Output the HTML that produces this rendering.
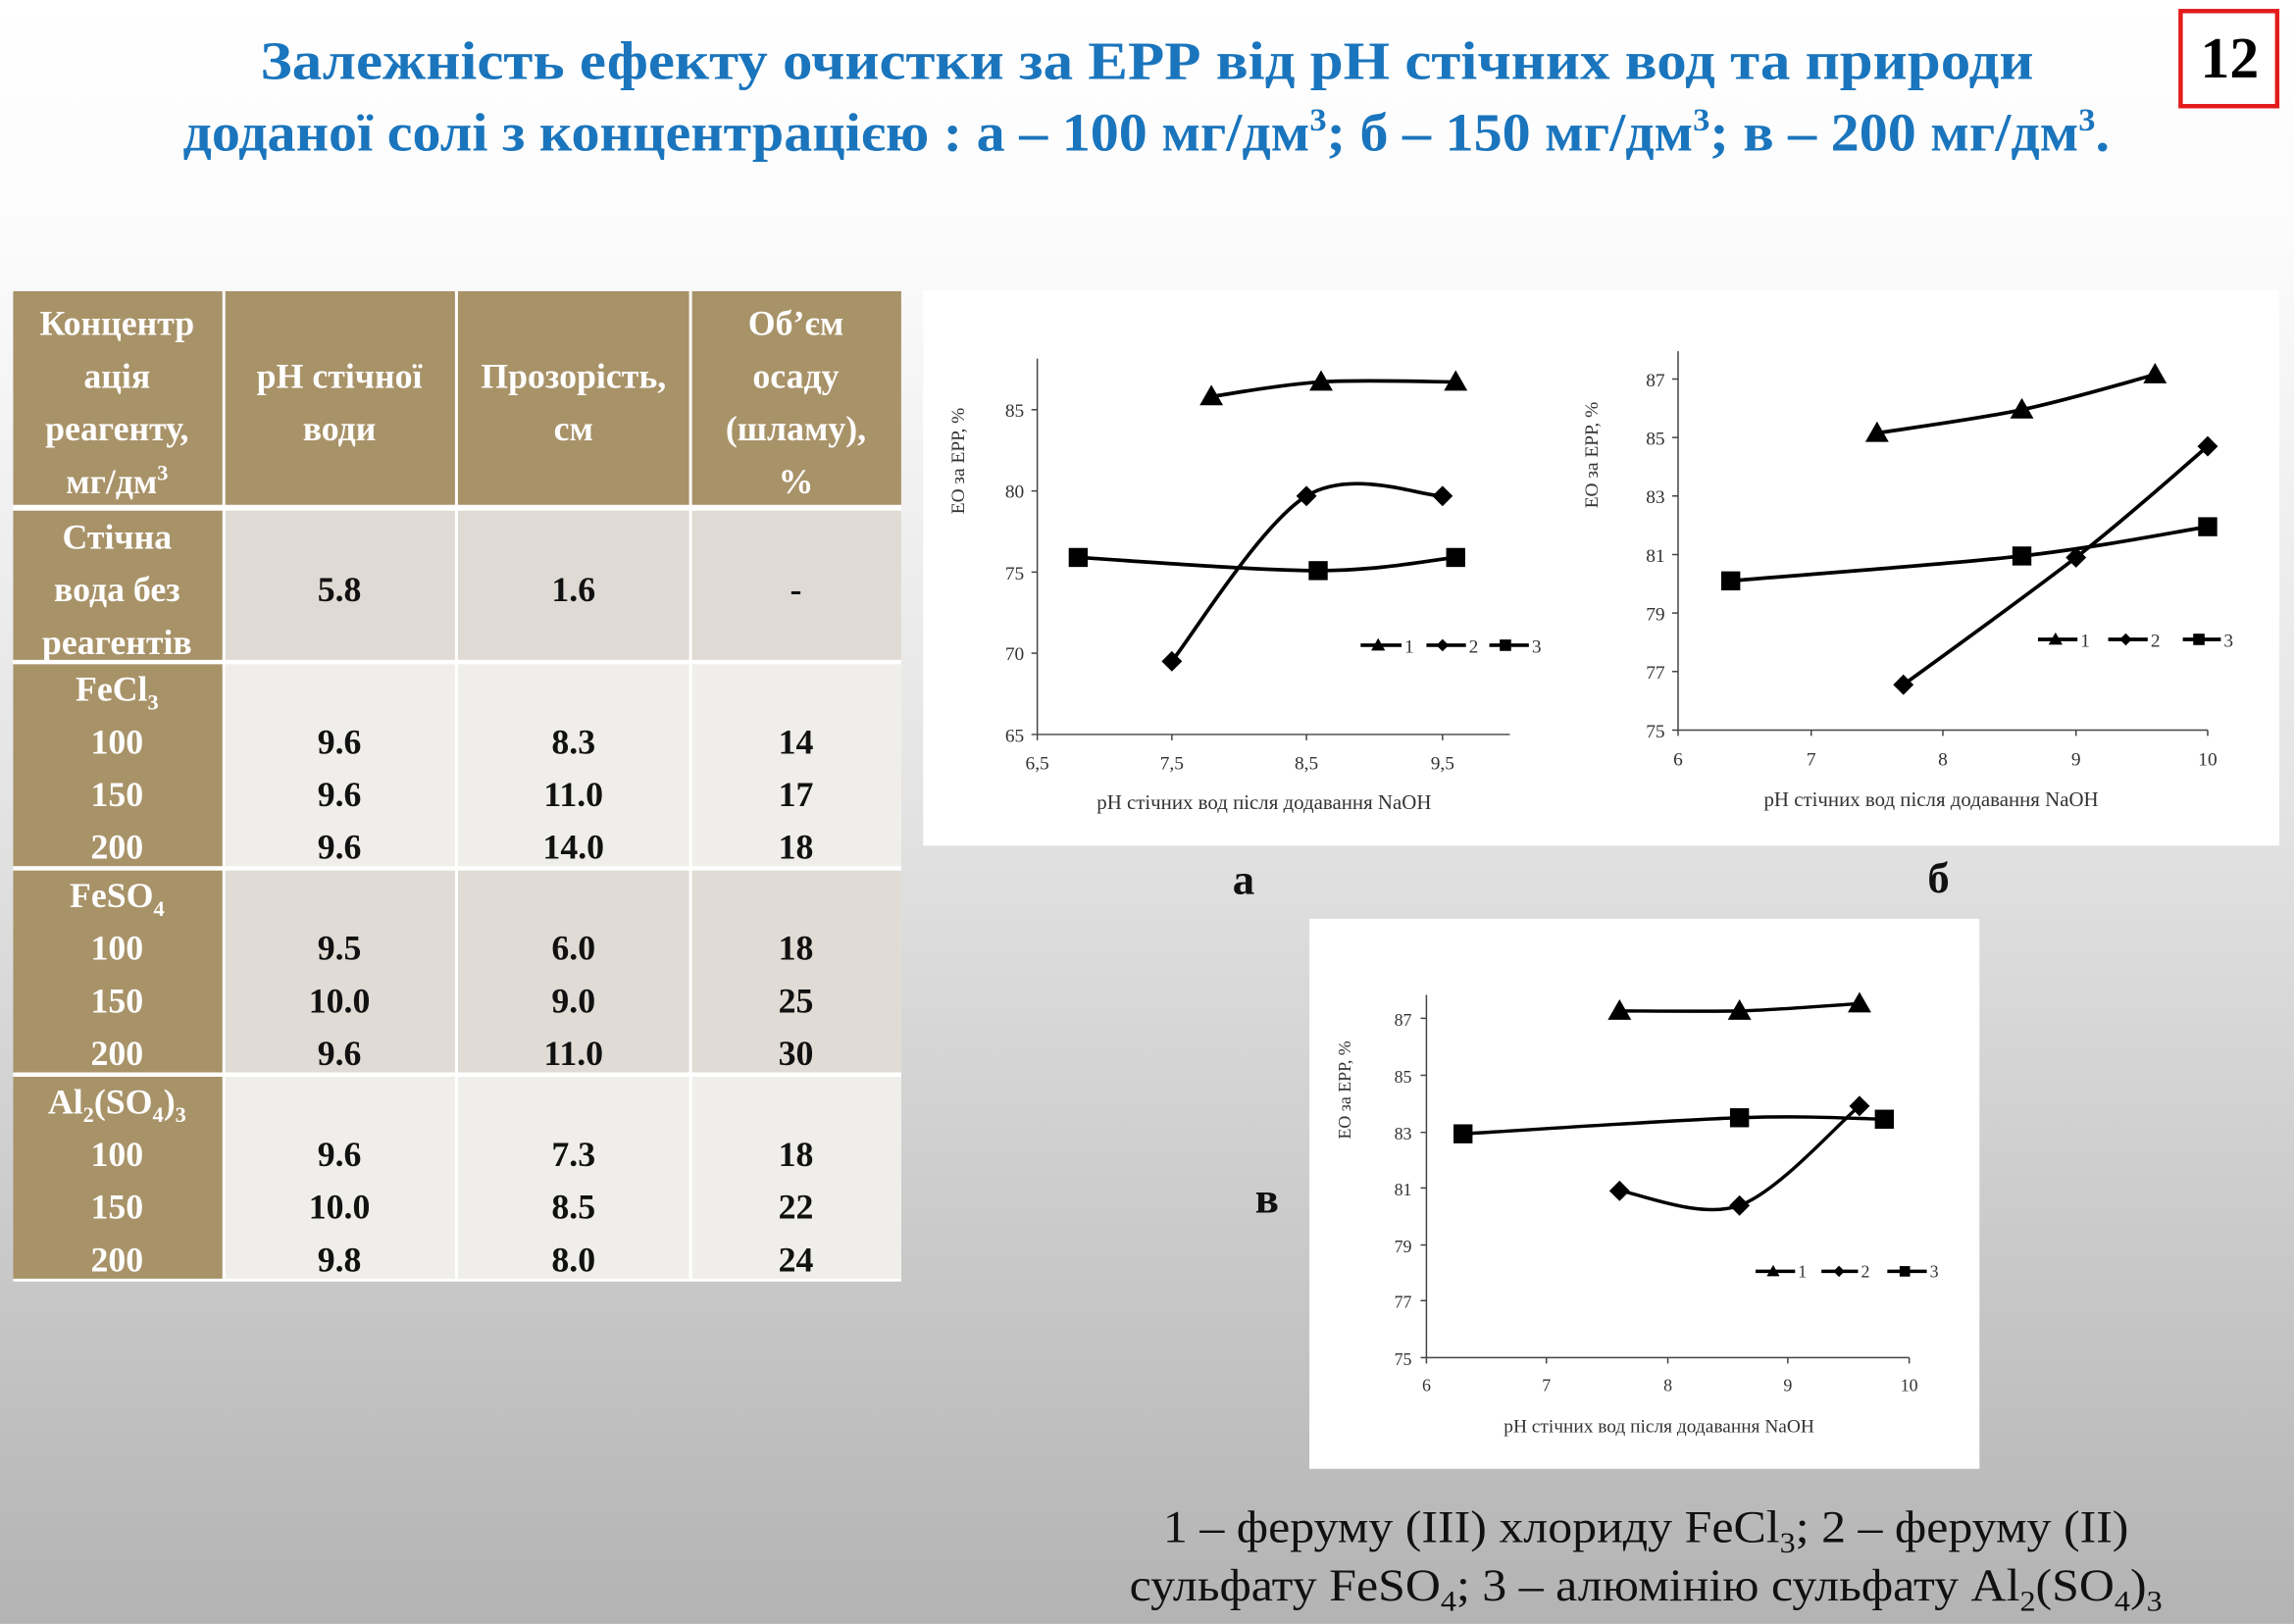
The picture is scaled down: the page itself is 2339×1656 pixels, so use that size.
<!DOCTYPE html>
<html><head><meta charset="utf-8"><style>
html,body{margin:0;padding:0;width:2339px;height:1656px;overflow:hidden}
svg{display:block}
</style></head><body>
<svg width="2339" height="1656" viewBox="0 0 1568 1110" xmlns="http://www.w3.org/2000/svg" font-family="'Liberation Serif', 'Noto Serif CJK SC', serif">
<defs>
<linearGradient id="bg" x1="0" y1="0" x2="0" y2="1">
<stop offset="0" stop-color="#ffffff"/>
<stop offset="0.15" stop-color="#fbfbfb"/>
<stop offset="0.5" stop-color="#e3e3e3"/>
<stop offset="1" stop-color="#b3b3b3"/>
</linearGradient>
<path id="tri" d="M0,-8 L8,6 L-8,6 Z"/>
<path id="dia" d="M0,-7 L7,0 L0,7 L-7,0 Z"/>
<rect id="sq" x="-6.5" y="-6.5" width="13" height="13"/>
</defs>
<rect width="1568" height="1110" fill="url(#bg)"/>

<!-- Title -->
<g fill="#1a75bd" font-weight="bold" font-size="37">
<text x="178" y="54" textLength="1212" lengthAdjust="spacingAndGlyphs">Залежність ефекту очистки за ЕРР від рН стічних вод та природи</text>
<text x="125" y="103" textLength="1317" lengthAdjust="spacingAndGlyphs">доданої солі з концентрацією : а – 100 мг/дм<tspan font-size="22" dy="-14">3</tspan><tspan dy="14">; б – 150 мг/дм</tspan><tspan font-size="22" dy="-14">3</tspan><tspan dy="14">; в – 200 мг/дм</tspan><tspan font-size="22" dy="-14">3</tspan><tspan dy="14">.</tspan></text>
</g>
<rect x="1490.5" y="7.5" width="66" height="65" fill="#fff" stroke="#e31b1b" stroke-width="3"/>
<text x="1524" y="53" font-size="40" font-weight="bold" text-anchor="middle">12</text>

<!-- Table -->
<g>
<rect x="9" y="199" width="607" height="677" fill="#fff"/>
<rect x="9" y="199" width="143" height="146" fill="#a89268"/>
<rect x="154" y="199" width="157" height="146" fill="#a89268"/>
<rect x="313" y="199" width="158" height="146" fill="#a89268"/>
<rect x="473" y="199" width="143" height="146" fill="#a89268"/>

<rect x="9" y="349" width="143" height="102" fill="#a89268"/>
<rect x="154" y="349" width="157" height="102" fill="#dfdbd4"/>
<rect x="313" y="349" width="158" height="102" fill="#dfdbd4"/>
<rect x="473" y="349" width="143" height="102" fill="#dfdbd4"/>

<rect x="9" y="454" width="143" height="138" fill="#a89268"/>
<rect x="154" y="454" width="157" height="138" fill="#f0eeeb"/>
<rect x="313" y="454" width="158" height="138" fill="#f0eeeb"/>
<rect x="473" y="454" width="143" height="138" fill="#f0eeeb"/>

<rect x="9" y="595" width="143" height="138" fill="#a89268"/>
<rect x="154" y="595" width="157" height="138" fill="#e0dcd5"/>
<rect x="313" y="595" width="158" height="138" fill="#e0dcd5"/>
<rect x="473" y="595" width="143" height="138" fill="#e0dcd5"/>

<rect x="9" y="736" width="143" height="138" fill="#a89268"/>
<rect x="154" y="736" width="157" height="138" fill="#f0eeeb"/>
<rect x="313" y="736" width="158" height="138" fill="#f0eeeb"/>
<rect x="473" y="736" width="143" height="138" fill="#f0eeeb"/>

<g font-size="24" font-weight="bold" text-anchor="middle" fill="#fff">
<text x="80" y="229">Концентр</text>
<text x="80" y="265">ація</text>
<text x="80" y="301">реагенту,</text>
<text x="80" y="337">мг/дм<tspan font-size="15" dy="-9">3</tspan></text>
<text x="232" y="265">рН стічної</text>
<text x="232" y="301">води</text>
<text x="392" y="265">Прозорість,</text>
<text x="392" y="301">см</text>
<text x="544" y="229">Об’єм</text>
<text x="544" y="265">осаду</text>
<text x="544" y="301">(шламу),</text>
<text x="544" y="337">%</text>
<text x="80" y="375">Стічна</text>
<text x="80" y="411">вода без</text>
<text x="80" y="447">реагентів</text>
<text x="80" y="479">FeCl<tspan font-size="15" dy="6">3</tspan></text>
<text x="80" y="515">100</text><text x="80" y="551">150</text><text x="80" y="587">200</text>
<text x="80" y="620">FeSO<tspan font-size="15" dy="6">4</tspan></text>
<text x="80" y="656">100</text><text x="80" y="692">150</text><text x="80" y="728">200</text>
<text x="80" y="761">Al<tspan font-size="15" dy="6">2</tspan><tspan dy="-6">(SO</tspan><tspan font-size="15" dy="6">4</tspan><tspan dy="-6">)</tspan><tspan font-size="15" dy="6">3</tspan></text>
<text x="80" y="797">100</text><text x="80" y="833">150</text><text x="80" y="869">200</text>
</g>
<g font-size="24" font-weight="bold" text-anchor="middle" fill="#111">
<text x="232" y="411">5.8</text><text x="392" y="411">1.6</text><text x="544" y="411">-</text>
<text x="232" y="515">9.6</text><text x="392" y="515">8.3</text><text x="544" y="515">14</text>
<text x="232" y="551">9.6</text><text x="392" y="551">11.0</text><text x="544" y="551">17</text>
<text x="232" y="587">9.6</text><text x="392" y="587">14.0</text><text x="544" y="587">18</text>
<text x="232" y="656">9.5</text><text x="392" y="656">6.0</text><text x="544" y="656">18</text>
<text x="232" y="692">10.0</text><text x="392" y="692">9.0</text><text x="544" y="692">25</text>
<text x="232" y="728">9.6</text><text x="392" y="728">11.0</text><text x="544" y="728">30</text>
<text x="232" y="797">9.6</text><text x="392" y="797">7.3</text><text x="544" y="797">18</text>
<text x="232" y="833">10.0</text><text x="392" y="833">8.5</text><text x="544" y="833">22</text>
<text x="232" y="869">9.8</text><text x="392" y="869">8.0</text><text x="544" y="869">24</text>
</g>
</g>

<!-- Panel a/б -->
<rect x="631" y="198" width="927" height="380" fill="#fff"/>
<g stroke="#444" stroke-width="1" fill="none">
<path d="M709,245 V502 H1032"/>
<path d="M705,502H709M705,446.5H709M705,391H709M705,335.5H709M705,280H709"/>
<path d="M709,502V506M801,502V506M893,502V506M986,502V506"/>
<path d="M1147,240 V499 H1509"/>
<path d="M1143,499H1147M1143,459H1147M1143,419H1147M1143,379H1147M1143,339H1147M1143,299H1147M1143,259H1147"/>
<path d="M1147,499V503M1238,499V503M1328,499V503M1419,499V503M1509,499V503"/>
</g>
<g font-size="13" fill="#333">
<g text-anchor="end">
<text x="700" y="507">65</text><text x="700" y="451">70</text><text x="700" y="396">75</text><text x="700" y="340">80</text><text x="700" y="285">85</text>
<text x="1138" y="504">75</text><text x="1138" y="464">77</text><text x="1138" y="424">79</text><text x="1138" y="384">81</text><text x="1138" y="344">83</text><text x="1138" y="304">85</text><text x="1138" y="264">87</text>
</g>
<g text-anchor="middle">
<text x="709" y="526">6,5</text><text x="801" y="526">7,5</text><text x="893" y="526">8,5</text><text x="986" y="526">9,5</text>
<text x="1147" y="523">6</text><text x="1238" y="523">7</text><text x="1328" y="523">8</text><text x="1419" y="523">9</text><text x="1509" y="523">10</text>
<text x="864" y="553" font-size="14">рН стічних вод після додавання NaOH</text>
<text x="1320" y="551" font-size="14">рН стічних вод після додавання NaOH</text>
<text transform="translate(659,315) rotate(-90)">ЕО за ЕРР, %</text>
<text transform="translate(1092,311) rotate(-90)">ЕО за ЕРР, %</text>
</g>
</g>
<g stroke="#000" stroke-width="2.5" fill="none">
<path d="M828,271 C840.5,269.3 875,262.7 903,261 C931,259.3 980,261 995,261"/>
<path d="M801,452 C816,433 862,358 893,339 C924,320 971,339 986,339"/>
<path d="M737,381 C764,382.5 858,390 901,390 C944,390 979,382.5 995,381"/>
<path d="M1283,296 C1299.5,293.3 1350,286.7 1382,280 C1414,273.3 1458,260 1473,256"/>
<path d="M1301,468 C1321,453.5 1384,408 1419,381 C1454,353.8 1494,317.7 1509,305"/>
<path d="M1183,397 C1216,394 1328,386 1382,380 C1436,373.8 1488,363.3 1509,360"/>
<path d="M930,441H958M975,441H1002M1018,441H1045"/>
<path d="M1393,437H1420M1441,437H1468M1492,437H1518"/>
</g>
<g fill="#000">
<use href="#tri" x="828" y="271"/><use href="#tri" x="903" y="261"/><use href="#tri" x="995" y="261"/>
<use href="#dia" x="801" y="452"/><use href="#dia" x="893" y="339"/><use href="#dia" x="986" y="339"/>
<use href="#sq" x="737" y="381"/><use href="#sq" x="901" y="390"/><use href="#sq" x="995" y="381"/>
<use href="#tri" x="1283" y="296"/><use href="#tri" x="1382" y="280"/><use href="#tri" x="1473" y="256"/>
<use href="#dia" x="1301" y="468"/><use href="#dia" x="1419" y="381"/><use href="#dia" x="1509" y="305"/>
<use href="#sq" x="1183" y="397"/><use href="#sq" x="1382" y="380"/><use href="#sq" x="1509" y="360"/>
<g transform="translate(942,441) scale(0.6)"><use href="#tri"/></g>
<g transform="translate(986,441) scale(0.6)"><use href="#dia"/></g>
<g transform="translate(1029,441) scale(0.6)"><use href="#sq"/></g>
<g transform="translate(1405,437) scale(0.6)"><use href="#tri"/></g>
<g transform="translate(1453,437) scale(0.6)"><use href="#dia"/></g>
<g transform="translate(1503,437) scale(0.6)"><use href="#sq"/></g>
</g>
<g font-size="13" fill="#333">
<text x="960" y="446">1</text><text x="1004" y="446">2</text><text x="1047" y="446">3</text>
<text x="1422" y="442">1</text><text x="1470" y="442">2</text><text x="1520" y="442">3</text>
</g>
<g font-size="30" font-weight="bold" text-anchor="middle" fill="#111">
<text x="850" y="611">а</text><text x="1325" y="610">б</text><text x="866" y="829">в</text>
</g>

<!-- Panel в -->
<rect x="895" y="628" width="458" height="376" fill="#fff"/>
<g stroke="#444" stroke-width="1" fill="none">
<path d="M975,680 V928 H1305"/>
<path d="M971,928H975M971,889H975M971,851H975M971,812H975M971,774H975M971,735H975M971,696H975"/>
<path d="M975,928V932M1057,928V932M1140,928V932M1222,928V932M1305,928V932"/>
</g>
<g font-size="12" fill="#333">
<g text-anchor="end">
<text x="965" y="933">75</text><text x="965" y="894">77</text><text x="965" y="856">79</text><text x="965" y="817">81</text><text x="965" y="779">83</text><text x="965" y="740">85</text><text x="965" y="701">87</text>
</g>
<g text-anchor="middle">
<text x="975" y="951">6</text><text x="1057" y="951">7</text><text x="1140" y="951">8</text><text x="1222" y="951">9</text><text x="1305" y="951">10</text>
<text x="1134" y="979" font-size="13">рН стічних вод після додавання NaOH</text>
<text transform="translate(923,745) rotate(-90)">ЕО за ЕРР, %</text>
</g>
<text x="1229" y="873">1</text><text x="1272" y="873">2</text><text x="1319" y="873">3</text>
</g>
<g stroke="#000" stroke-width="2.3" fill="none">
<path d="M1107,691 C1121,691 1162,691.4 1189,691 C1216,690.2 1257,686.8 1271,686"/>
<path d="M1107,814 C1121,815.7 1162,833.7 1189,824 C1216,814.3 1257,767.3 1271,756"/>
<path d="M1000,775 C1031.5,773.2 1141,765.7 1189,764 C1237,762.3 1271.5,764.8 1288,765"/>
<path d="M1200,869H1227M1245,869H1270M1290,869H1317"/>
</g>
<g fill="#000">
<use href="#tri" x="1107" y="691"/><use href="#tri" x="1189" y="691"/><use href="#tri" x="1271" y="686"/>
<use href="#dia" x="1107" y="814"/><use href="#dia" x="1189" y="824"/><use href="#dia" x="1271" y="756"/>
<use href="#sq" x="1000" y="775"/><use href="#sq" x="1189" y="764"/><use href="#sq" x="1288" y="765"/>
<g transform="translate(1212,869) scale(0.55)"><use href="#tri"/></g>
<g transform="translate(1257,869) scale(0.55)"><use href="#dia"/></g>
<g transform="translate(1302,869) scale(0.55)"><use href="#sq"/></g>
</g>

<!-- Caption -->
<g font-size="31" fill="#111">
<text x="795" y="1054" textLength="660" lengthAdjust="spacingAndGlyphs">1 – феруму (ІІІ) хлориду FeCl<tspan font-size="20" dy="7">3</tspan><tspan dy="-7">; 2 – феруму (ІІ)</tspan></text>
<text x="772" y="1094" textLength="706" lengthAdjust="spacingAndGlyphs">сульфату FeSO<tspan font-size="20" dy="7">4</tspan><tspan dy="-7">; 3 – алюмінію сульфату Al</tspan><tspan font-size="20" dy="7">2</tspan><tspan dy="-7">(SO</tspan><tspan font-size="20" dy="7">4</tspan><tspan dy="-7">)</tspan><tspan font-size="20" dy="7">3</tspan></text>
</g>
</svg>
</body></html>
